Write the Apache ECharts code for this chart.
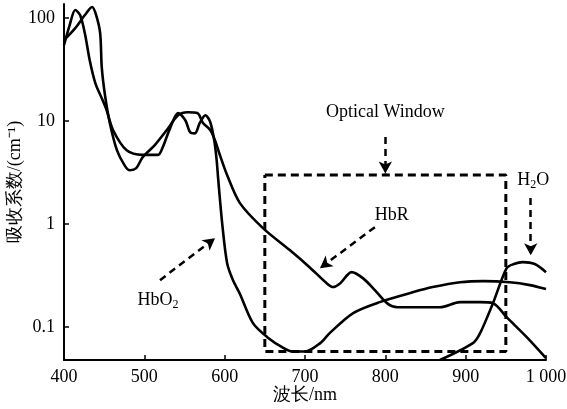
<!DOCTYPE html>
<html>
<head>
<meta charset="utf-8">
<script src="https://cdn.jsdelivr.net/npm/echarts@6/dist/echarts.min.js"></script>
<style>
	html, body { margin: 0; padding: 0; background: #fff; }
	#chart { width: 567px; height: 409px; }
</style>
</head>
<body>
<div id="chart"></div>
<script>
// 波长 (nm) 与吸收系数 (cm^-1)
const hbo2Nm = [400, 407, 414, 420, 426, 432, 439, 448, 453, 461, 478, 498, 517, 523, 532, 542, 551, 557, 563, 569, 576, 582, 587, 590, 592, 597, 603, 610, 619, 635, 653, 673, 685, 700, 719, 731, 760, 793, 835, 859, 893, 922, 955, 980, 1000];
const hbo2Val = [54.7, 85, 120, 107, 71, 39, 23.4, 16, 12.8, 8.2, 5.2, 4.7, 4.7, 5.6, 8.5, 12, 10.2, 7.8, 7.6, 9.6, 11.4, 9.8, 6.5, 4.2, 2.7, 1.0, 0.42, 0.29, 0.21, 0.11, 0.08, 0.063, 0.058, 0.058, 0.07, 0.088, 0.137, 0.175, 0.219, 0.245, 0.273, 0.28, 0.273, 0.256, 0.234];

const hbrNm = [400, 414, 426, 435, 440, 445, 447, 451, 457, 466, 476, 482, 490, 498, 513, 528, 542, 554, 566, 573, 582, 588, 594, 603, 619, 648, 681, 706, 727, 735, 744, 758, 772, 787, 802, 815, 868, 893, 918, 934, 951, 976, 1000];
const hbrVal = [61, 80, 107, 128, 107, 71.5, 33.4, 17.9, 9.6, 5.2, 3.66, 3.34, 3.5, 4.47, 5.85, 8.2, 11.4, 12.2, 12, 9.6, 8.2, 6.5, 4.7, 3.0, 1.6, 0.91, 0.56, 0.38, 0.267, 0.245, 0.267, 0.342, 0.299, 0.229, 0.171, 0.156, 0.156, 0.175, 0.175, 0.171, 0.125, 0.08, 0.05];

const h2oNm = [868, 909, 918, 934, 951, 960, 971, 986, 1000];
const h2oVal = [0.048, 0.07, 0.0875, 0.171, 0.374, 0.41, 0.428, 0.41, 0.342];

// 光学窗口 (虚线框)
const windowNm = [650, 950];
const windowVal = [0.058, 3];

const FONT = "'Liberation Serif', 'Times New Roman', serif";

function pairs (xs, ys) {
	return xs.map((x, i) => [x, ys[i]]);
}

function curve (name, data) {
	return {
		name: name,
		type: 'line',
		data: data,
		showSymbol: false,
		smooth: 0.3,
		lineStyle: { color: '#000', width: 2.6 },
		z: 3
	};
}

const txt = { color: '#000', fontSize: 18, fontFamily: FONT };
const sub = { color: '#000', fontSize: 12, fontFamily: FONT, padding: [10, 0, 0, 0] };

function note (coord, text) {
	return {
		coord: coord,
		symbol: 'circle',
		symbolSize: 0,
		label: {
			show: true,
			position: 'inside',
			formatter: text,
			rich: { n: txt, s: sub }
		}
	};
}

function arrow (from, to) {
	return [{ coord: from }, { coord: to }];
}

const opt = {
	animation: false,
	backgroundColor: '#fff',
	grid: { left: 64, right: 21, top: 4, bottom: 49, outerBoundsMode: 'none', containLabel: false },
	xAxis: {
		type: 'value',
		min: 400,
		max: 1000,
		interval: 100,
		name: '波长/nm',
		nameLocation: 'middle',
		nameGap: 26,
		nameMoveOverlap: false,
		nameTextStyle: { color: '#000', fontSize: 18, fontFamily: FONT },
		axisLine: { onZero: false, lineStyle: { color: '#000', width: 2 } },
		axisTick: { inside: true, length: 5, lineStyle: { color: '#000', width: 1.5 } },
		axisLabel: {
			color: '#000', fontSize: 18, fontFamily: FONT, margin: 8,
			formatter: v => (v === 1000 ? '1 000' : String(v))
		},
		splitLine: { show: false }
	},
	yAxis: {
		type: 'log',
		logBase: 10,
		min: 0.048,
		max: 137,
		name: '吸收系数/(cm⁻¹)',
		nameLocation: 'middle',
		nameGap: 40,
		nameMoveOverlap: false,
		nameTextStyle: { color: '#000', fontSize: 18, fontFamily: FONT },
		axisLine: { show: true, onZero: false, lineStyle: { color: '#000', width: 2 } },
		axisTick: { show: true, inside: true, length: 5, lineStyle: { color: '#000', width: 1.5 } },
		axisLabel: {
			color: '#000', fontSize: 18, fontFamily: FONT, margin: 9,
			showMinLabel: false, showMaxLabel: false,
			formatter: v => String(+(+v).toPrecision(3))
		},
		splitLine: { show: false }
	},
	series: [
		curve('HbO2', pairs(hbo2Nm, hbo2Val)),
		curve('HbR', pairs(hbrNm, hbrVal)),
		curve('H2O', pairs(h2oNm, h2oVal)),
		{
			name: 'window',
			type: 'line',
			data: [
				[windowNm[0], windowVal[1]], [windowNm[1], windowVal[1]],
				[windowNm[1], windowVal[0]], [windowNm[0], windowVal[0]],
				[windowNm[0], windowVal[1]]
			],
			showSymbol: false,
			lineStyle: { color: '#000', width: 3, type: [8, 5] },
			z: 2,
			markLine: {
				silent: true,
				symbol: ['none', 'arrow'],
				symbolSize: [10, 12],
				label: { show: false },
				lineStyle: { color: '#000', width: 2.5, type: [7, 5] },
				data: [
					arrow([800, 7.0], [800, 3.1]),
					arrow([787, 0.935], [718.7, 0.374]),
					arrow([981, 1.79], [981, 0.5]),
					arrow([519.5, 0.286], [588, 0.731])
				]
			},
			markPoint: {
				silent: true,
				data: [
					note([800, 12.2], '{n|Optical Window}'),
					note([808, 1.22], '{n|HbR}'),
					note([984, 2.67], '{n|H}{s|2}{n|O}'),
					note([517, 0.183], '{n|HbO}{s|2}')
				]
			}
		}
	]
};

const chart = echarts.init(document.getElementById('chart'));
chart.setOption(opt);
</script>
</body>
</html>
